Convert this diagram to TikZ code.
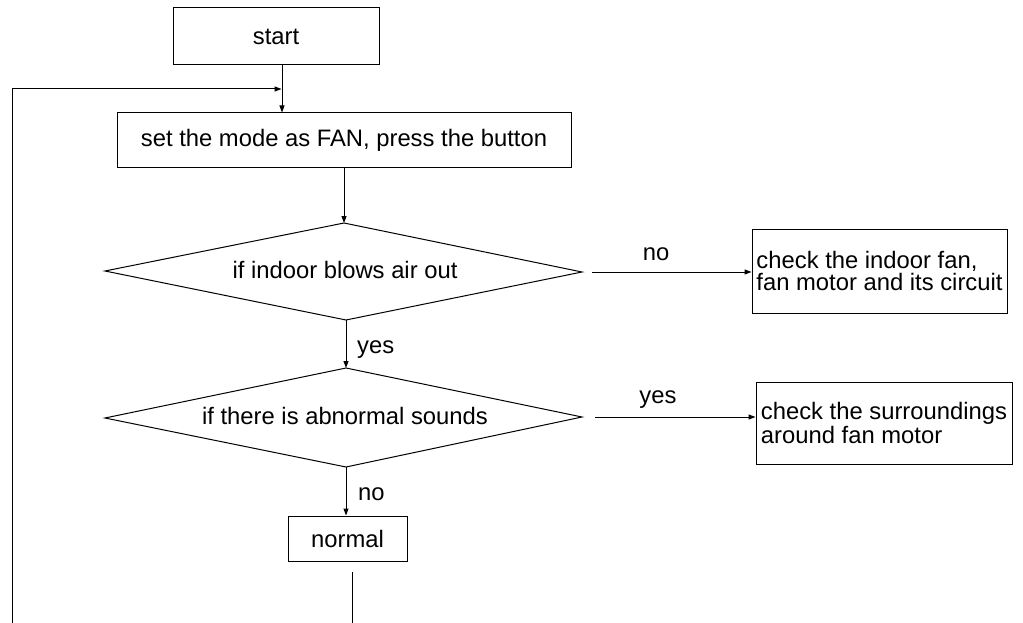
\documentclass[tikz,border=0pt]{standalone}
\usepackage{fontspec}
\setmainfont{Liberation Sans}
\usetikzlibrary{arrows.meta}
\begin{document}
\begin{tikzpicture}[x=1pt,y=-1pt,
  every node/.style={font=\fontsize{23.8}{22}\selectfont},
  box/.style={draw,line width=1pt,inner sep=0pt},
  tbox/.style={draw,line width=1pt,inner xsep=3pt,inner ysep=0pt,align=left},
  lbl/.style={inner sep=0pt},
  dline/.style={line width=1pt,line join=miter},
  arr/.style={line width=1pt,-{Triangle[length=7pt,width=5pt]}},
  ln/.style={line width=1pt}]
\useasboundingbox (0,0) rectangle (1023,623);
\node[box,minimum width=206,minimum height=57] (start) at (276,36.5) {start};
\node[box,minimum width=454,minimum height=55] (set) at (344,140.5) {set the mode as FAN, press the button};
% diamond 1
\node[lbl] (d1) at (345,270) {if indoor blows air out};
\coordinate (d1n) at (344,223);
\coordinate (d1e) at (582,272);
\coordinate (d1s) at (346,320);
\coordinate (d1w) at (105,271);
\draw[dline] (d1n) -- (d1e) -- (d1s) -- (d1w) -- cycle;
% diamond 2
\node[lbl] (d2) at (345,416) {if there is abnormal sounds};
\coordinate (d2n) at (346,368);
\coordinate (d2e) at (582,417);
\coordinate (d2s) at (346,467);
\coordinate (d2w) at (105,418);
\draw[dline] (d2n) -- (d2e) -- (d2s) -- (d2w) -- cycle;
\node[tbox,minimum width=255,minimum height=84] (c1) at (879.5,271) {check the indoor fan,\\fan motor and its circuit};
\node[tbox,minimum width=256,minimum height=82] (c2) at (884,423) {check the surroundings\\around fan motor};
\node[box,minimum width=119,minimum height=45] (normal) at (347.5,538.5) {normal};
\node[lbl,anchor=base] (lno1) at (656,260) {no};
\node[lbl,anchor=base] (lyes1) at (658,403) {yes};
\node[lbl,anchor=base west] (lyes2) at (357,353) {yes};
\node[lbl,anchor=base west] (lno2) at (358,500) {no};
\coordinate (jx) at (282,89);
\coordinate (lb) at (12,623);
\coordinate (nb1) at (352,572);
\coordinate (nb2) at (352,623);
\draw[arr] (start.south -| jx) -- (set.north -| jx);
\draw[arr] (lb) |- ([xshift=-0.5pt]jx);
\draw[arr] (set.south -| d1n) -- (d1n);
\draw[arr] (d1s) -- (d2n);
\draw[arr] (d2s) -- (d2s |- normal.north);
\draw[arr,shorten <=10pt] (d1e) -- (c1.west |- d1e);
\draw[arr,shorten <=13pt] (d2e) -- (c2.west |- d2e);
\draw[ln] (nb1) -- (nb2);
\end{tikzpicture}
\end{document}
